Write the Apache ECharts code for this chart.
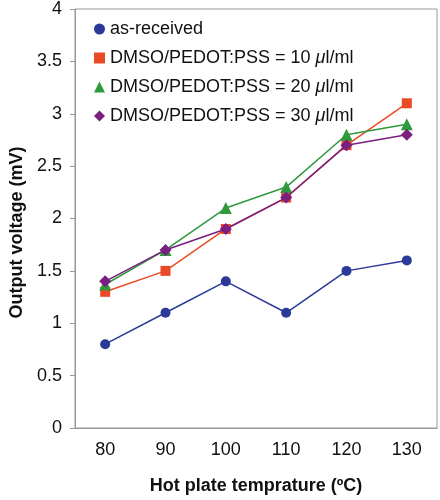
<!DOCTYPE html>
<html><head><meta charset="utf-8">
<script src="https://cdn.jsdelivr.net/npm/echarts@6/dist/echarts.min.js"></script>
<style>html,body{margin:0;padding:0;background:#fff}#c{width:440px;height:500px}</style>
</head><body><div id="c"></div>
<script>
const categories = ['80','90','100','110','120','130'];
const asReceived = [0.8, 1.1, 1.4, 1.1, 1.5, 1.6];
const dmso10 = [1.3, 1.5, 1.9, 2.2, 2.7, 3.1];
const dmso20 = [1.37, 1.7, 2.1, 2.3, 2.8, 2.9];
const dmso30 = [1.4, 1.7, 1.9, 2.2, 2.7, 2.8];
const names = ['as-received','DMSO/PEDOT:PSS = 10 μl/ml','DMSO/PEDOT:PSS = 20 μl/ml','DMSO/PEDOT:PSS = 30 μl/ml'];
const colors = ['#2B3A98','#EA4A26','#2E9A3C','#7A1E80'];
const symbols = ['circle','rect','triangle','diamond'];
const sizes = [10,10,12,12];
const values = [asReceived, dmso10, dmso20, dmso30];
const font = '"Liberation Sans", Arial, sans-serif';
const chart = echarts.init(document.getElementById('c'));
chart.setOption({
  animation:false,
  textStyle:{fontFamily:font},
  grid:{left:73,right:3,top:8,bottom:71,show:true,borderColor:'#999',borderWidth:1,backgroundColor:'transparent'},
  legend:{
    orient:'vertical', left:89, top:15, itemGap:11, itemWidth:11, itemHeight:11,
    data:names.map((n,i)=>({name:n,icon:symbols[i]})),
    formatter:function(n){return n.replace('μ','{i|μ}');},
    textStyle:{fontSize:18,lineHeight:18,color:'#111',fontFamily:font,rich:{i:{fontStyle:'italic',fontSize:18,lineHeight:18,fontFamily:font}}}
  },
  xAxis:{
    type:'category', data:categories, boundaryGap:true,
    name:'Hot plate temprature (ºC)', nameLocation:'middle', nameGap:49,
    nameTextStyle:{fontSize:18,fontWeight:'bold',color:'#111',fontFamily:font},
    axisLine:{lineStyle:{color:'#999'}},
    axisTick:{alignWithLabel:true,length:5,lineStyle:{color:'#999'}},
    axisLabel:{fontSize:18,color:'#111',margin:13,fontFamily:font}
  },
  yAxis:{
    type:'value', min:0, max:4, interval:0.5,
    name:'Output voltage (mV)', nameLocation:'middle', nameGap:49,
    nameTextStyle:{fontSize:18,fontWeight:'bold',color:'#111',fontFamily:font,padding:[0,28,0,0]},
    axisLine:{show:true,lineStyle:{color:'#999'}},
    axisTick:{show:true,length:5,lineStyle:{color:'#999'}},
    splitLine:{show:false},
    axisLabel:{fontSize:18,color:'#111',margin:13,fontFamily:font}
  },
  series: values.map((v,i)=>({
    name:names[i], type:'line', data:v, symbol:symbols[i], symbolSize:sizes[i],
    itemStyle:{color:colors[i]}, lineStyle:{color:colors[i],width:1.5}, z:2+i
  }))
});
</script></body></html>
